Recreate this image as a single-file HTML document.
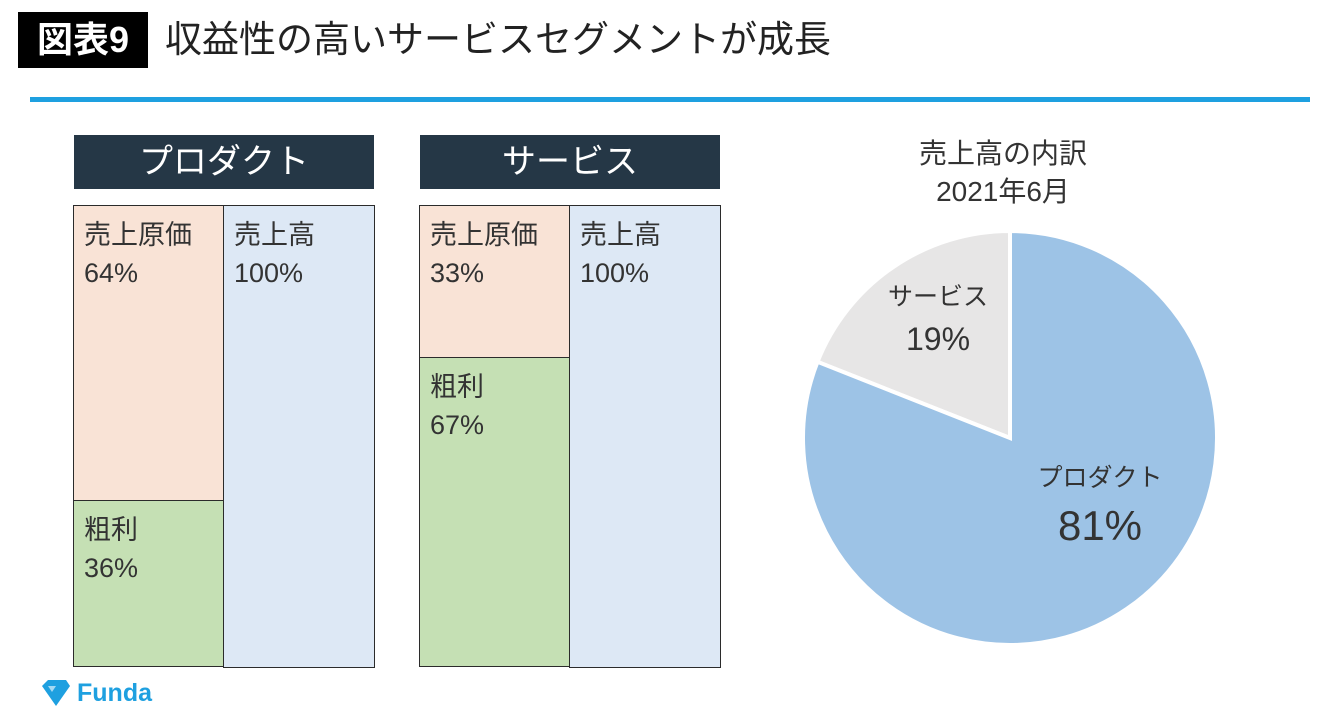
<!DOCTYPE html>
<html><head><meta charset="utf-8">
<style>
body{margin:0;width:1340px;height:724px;background:#fff;position:relative;overflow:hidden;font-family:"Liberation Sans","Noto Sans CJK JP",sans-serif;color:#333}
.abs{position:absolute}
.hdr{position:absolute;background:#253746;color:#fff;font-size:34px;text-align:center;line-height:54px;height:54px}
.box{position:absolute;border:1.5px solid #2b2b2b;box-sizing:border-box;font-size:27px;line-height:38px;padding:10px 0 0 10px;color:#333}
</style></head><body>
<div class="abs" style="left:18px;top:12px;width:130px;height:56px;background:#000;color:#fff;font-size:36px;line-height:56px;text-align:center;font-weight:bold">図表9</div>
<div class="abs" style="left:165px;top:12px;font-size:37px;line-height:56px;color:#222">収益性の高いサービスセグメントが成長</div>
<div class="abs" style="left:30px;top:97px;width:1280px;height:5px;background:#1ea0e0"></div>
<div id="bars"></div>
<svg class="abs" style="left:0;top:0" width="1340" height="724" id="pie"></svg>
<div class="abs" style="left:40px;top:678px;height:30px;display:flex;align-items:center">
<svg width="32" height="30" viewBox="0 0 32 30"><polygon points="2,8 8,2 26,2 30,8 16,28" fill="#1ea0e0"/><polygon points="8,8 16,8 12,14" fill="#fff" opacity=".6"/></svg>
<span style="color:#1ea0e0;font-weight:bold;font-size:25px;margin-left:5px">Funda</span></div>
<script>
const segments=["プロダクト","サービス"];
const costPct=[64,33];
const grossPct=[36,67];
const salesPct=[100,100];
const pieLabels=["サービス","プロダクト"];
const pieValues=[19,81];
const wrap=document.getElementById('bars');
const lefts=[73,419],top0=205,bot=666,colW=150;
const y=p=>top0+(bot-top0)*p/100;
segments.forEach((s,i)=>{
 const L=lefts[i];
 const h=document.createElement('div');h.className='hdr';
 
 
 h.style.cssText=`left:${L+1}px;top:135px;width:300px`;h.textContent=s;wrap.appendChild(h);
 const mk=(name,x,y1,y2,bg,txt)=>{const d=document.createElement('div');d.className='box';
  
  
  d.style.cssText=`left:${x}px;top:${y1}px;width:${colW+1.5}px;height:${y2-y1+1.5}px;background:${bg}`;d.innerHTML=txt;wrap.appendChild(d);};
 mk('cost-bar',L,y(0),y(costPct[i]),'#f9e3d6','売上原価<br>'+costPct[i]+'%');
 mk('gross-profit-bar',L,y(costPct[i]),y(costPct[i]+grossPct[i]),'#c5e0b4','粗利<br>'+grossPct[i]+'%');
 mk('sales-bar',L+colW,y(100-salesPct[i]),bot,'#dde8f5','売上高<br>'+salesPct[i]+'%');
});
const svg=document.getElementById('pie'),NS='http://www.w3.org/2000/svg';
const cx=1010,cy=438,r=207,cols=['#e7e6e6','#9dc3e6'];
const tot=pieValues.reduce((a,b)=>a+b,0);
let a0=0;
const pt=a=>[cx+r*Math.sin(-a*2*Math.PI),cy-r*Math.cos(a*2*Math.PI)];
pieValues.forEach((v,i)=>{
 const f=v/tot,a1=a0+f,p0=pt(a0),p1=pt(a1);
 const p=document.createElementNS(NS,'path');
 p.setAttribute('d',`M${cx},${cy}L${p0[0]},${p0[1]}A${r},${r} 0 ${f>0.5?1:0} 0 ${p1[0]},${p1[1]}Z`);
 p.setAttribute('fill',cols[i]);p.setAttribute('stroke','#fff');p.setAttribute('stroke-width','4');
 
 
 svg.appendChild(p);a0=a1;
});
const txt=(x,yy,s,fs,name)=>{const t=document.createElementNS(NS,'text');t.setAttribute('x',x);t.setAttribute('y',yy);t.setAttribute('text-anchor','middle');t.setAttribute('font-size',fs);t.setAttribute('fill','#333');t.textContent=s;
 
 
 svg.appendChild(t);};
txt(1003,163,'売上高の内訳',28,'pie-title');
txt(1003,201,'2021年6月',28,'pie-subtitle');
txt(938,305,pieLabels[0],25,'pie-label-service');
txt(938,350,pieValues[0]+'%',32,'pie-value-service');
txt(1100,486,pieLabels[1],25,'pie-label-product');
txt(1100,540,pieValues[1]+'%',42,'pie-value-product');
</script>
</body></html>
